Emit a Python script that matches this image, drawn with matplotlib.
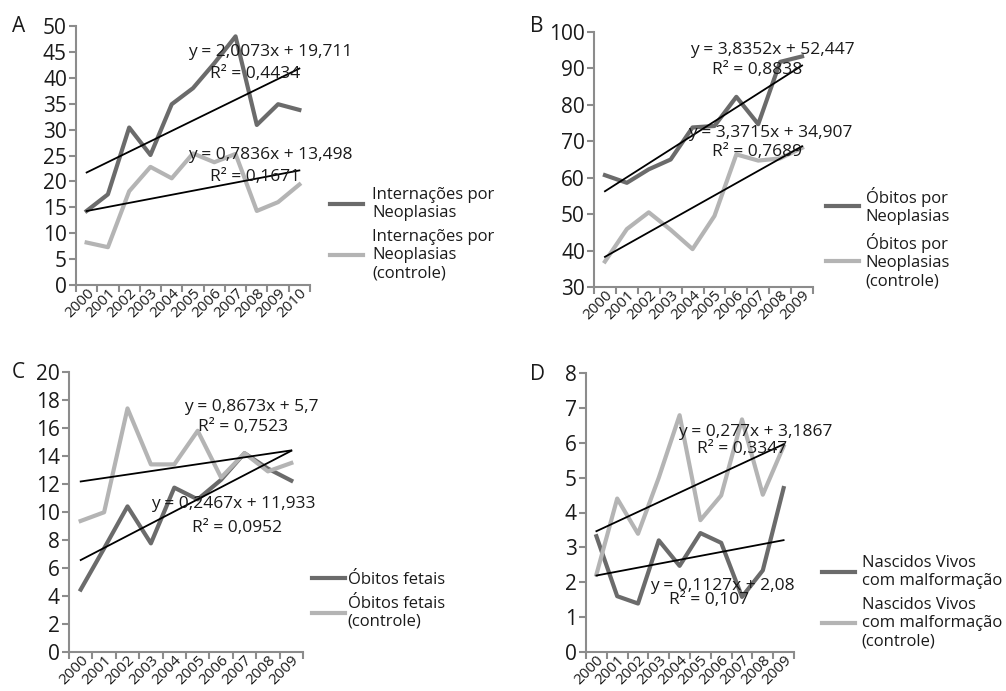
import numpy as np
import matplotlib
matplotlib.use('Agg')
import matplotlib.pyplot as plt
from matplotlib.lines import Line2D

plt.rcParams['font.family'] = ['Open Sans', 'DejaVu Sans']

W, H = 1006, 691

# Painel A - internações por neoplasias
anos_A = ['2000', '2001', '2002', '2003', '2004', '2005', '2006', '2007', '2008', '2009', '2010']
intern_neo = [14.3, 17.5, 30.4, 25.1, 34.9, 38.0, 42.8, 48.0, 30.9, 34.9, 33.8]
intern_neo_ctrl = [8.2, 7.3, 18.1, 22.8, 20.6, 25.4, 23.7, 25.3, 14.3, 16.0, 19.4]
tend_A = [(2.0073, 19.711), (0.7836, 13.498)]
r2_A = ['0,4434', '0,1671']
leg_A = ['Internações por\nNeoplasias', 'Internações por\nNeoplasias\n(controle)']

# Painel B - óbitos por neoplasias
anos_B = ['2000', '2001', '2002', '2003', '2004', '2005', '2006', '2007', '2008', '2009']
obitos_neo = [60.7, 58.6, 62.3, 65.0, 73.8, 74.2, 82.2, 74.7, 91.8, 93.3]
obitos_neo_ctrl = [37.0, 45.9, 50.5, 45.7, 40.4, 49.5, 66.4, 64.7, 65.3, 68.2]
tend_B = [(3.8352, 52.447), (3.3715, 34.907)]
r2_B = ['0,8838', '0,7689']
leg_B = ['Óbitos por\nNeoplasias', 'Óbitos por\nNeoplasias\n(controle)']

# Painel C - óbitos fetais
anos_C = ['2000', '2001', '2002', '2003', '2004', '2005', '2006', '2007', '2008', '2009']
obitos_fetais = [4.46, 7.4, 10.4, 7.76, 11.74, 10.9, 12.3, 14.2, 13.1, 12.24]
obitos_fetais_ctrl = [9.36, 9.98, 17.4, 13.4, 13.4, 15.8, 12.46, 14.2, 12.9, 13.5]
tend_C = [(0.8673, 5.7), (0.2467, 11.933)]
r2_C = ['0,7523', '0,0952']
leg_C = ['Óbitos fetais', 'Óbitos fetais\n(controle)']

# Painel D - nascidos vivos com malformação
anos_D = ['2000', '2001', '2002', '2003', '2004', '2005', '2006', '2007', '2008', '2009']
nv_malf = [3.32, 1.6, 1.39, 3.2, 2.47, 3.41, 3.13, 1.58, 2.34, 4.7]
nv_malf_ctrl = [2.22, 4.4, 3.39, 5.0, 6.79, 3.78, 4.49, 6.67, 4.51, 5.9]
tend_D = [(0.1127, 2.08), (0.277, 3.1867)]
r2_D = ['0,107', '0,3347']
leg_D = ['Nascidos Vivos\ncom malformação', 'Nascidos Vivos\ncom malformação\n(controle)']

ESCURO = '#6b6b6b'
CLARO = '#b4b4b4'
EIXO = '#8c8c8c'
TEXTO = '#1a1a1a'

fig = plt.figure(figsize=(W / 100, H / 100), dpi=100)


def fpos(x, y):
    # pixels -> coordenadas da figura
    return x / W, 1 - y / H


def num(v):
    return str(v).replace('.', ',')


def painel(caixa, anos, s1, s2, ymin, ymax, passo):
    l, t, r, b = caixa
    ax = fig.add_axes([l / W, 1 - b / H, (r - l) / W, (b - t) / H])
    x = np.arange(1, len(anos) + 1)
    ax.plot(x, s1, color=ESCURO, lw=3)
    ax.plot(x, s2, color=CLARO, lw=3)
    ax.set_xlim(0.5, len(anos) + 0.5)
    ax.set_ylim(ymin, ymax)
    ax.set_yticks(np.arange(ymin, ymax + passo / 2, passo))
    ax.set_xticks(x)
    ax.set_xticklabels(anos, rotation=45, ha='right', va='top', rotation_mode='anchor')
    ax.set_xticks(np.arange(0.5, len(anos) + 1), minor=True)
    ax.tick_params(axis='x', which='major', length=0, labelsize=11, pad=0.5, colors=TEXTO)
    ax.tick_params(axis='x', which='minor', length=5, width=1.5, color=EIXO)
    ax.tick_params(axis='y', length=5, width=1.5, color=EIXO, labelsize=15, pad=1.5, labelcolor=TEXTO)
    for s in ['top', 'right']:
        ax.spines[s].set_visible(False)
    for s in ['left', 'bottom']:
        ax.spines[s].set_color(EIXO)
        ax.spines[s].set_linewidth(1.5)
    ax.patch.set_alpha(0)
    return ax, x


def tendencia(ax, x, coef):
    a, b = coef
    xs = np.array([x[0], x[-1]])
    ax.plot(xs, a * xs + b, color='black', lw=1.3)


def rotulo(coef, r2, pos1, pos2):
    a, b = coef
    fig.text(*fpos(*pos1), f'y = {num(a)}x + {num(b)}', fontsize=12.5, va='center', ha='left', color=TEXTO)
    fig.text(*fpos(*pos2), f'R² = {r2}', fontsize=12.5, va='center', ha='left', color=TEXTO)


def legenda(ax, labels, canto, pad):
    h = [Line2D([], [], color=ESCURO, lw=3), Line2D([], [], color=CLARO, lw=3)]
    ax.legend(h, labels, loc='upper left', bbox_to_anchor=fpos(*canto), bbox_transform=fig.transFigure,
              frameon=False, fontsize=12, handlelength=1.95, handletextpad=pad, labelspacing=0.45,
              borderpad=0, borderaxespad=0, labelcolor=TEXTO)


# A
ax, x = painel((76, 26, 310, 285), anos_A, intern_neo, intern_neo_ctrl, 0, 50, 5)
for c in tend_A:
    tendencia(ax, x, c)
rotulo(tend_A[0], r2_A[0], (188, 52), (210, 74))
rotulo(tend_A[1], r2_A[1], (188, 155), (210, 177))
legenda(ax, leg_A, (330, 187), 0.6)
fig.text(*fpos(12, 27), 'A', fontsize=15, va='center', ha='left', color=TEXTO)

# B
ax, x = painel((594, 32, 813, 287), anos_B, obitos_neo, obitos_neo_ctrl, 30, 100, 10)
for c in tend_B:
    tendencia(ax, x, c)
rotulo(tend_B[0], r2_B[0], (690, 50), (712, 70))
rotulo(tend_B[1], r2_B[1], (688, 133), (712, 152))
legenda(ax, leg_B, (826, 187), 0.42)
fig.text(*fpos(530, 27), 'B', fontsize=15, va='center', ha='left', color=TEXTO)

# C
ax, x = painel((69, 372, 303, 652), anos_C, obitos_fetais, obitos_fetais_ctrl, 0, 20, 2)
for c in tend_C:
    tendencia(ax, x, c)
rotulo(tend_C[0], r2_C[0], (184, 407), (198, 427))
rotulo(tend_C[1], r2_C[1], (151, 504), (192, 528))
legenda(ax, leg_C, (312, 572), 0.2)
fig.text(*fpos(12, 373), 'C', fontsize=15, va='center', ha='left', color=TEXTO)

# D
ax, x = painel((586, 373, 794, 652), anos_D, nv_malf, nv_malf_ctrl, 0, 8, 1)
for c in tend_D:
    tendencia(ax, x, c)
rotulo(tend_D[1], r2_D[1], (678, 432), (697, 449))
rotulo(tend_D[0], r2_D[0], (650, 586), (669, 600))
legenda(ax, leg_D, (822, 555), 0.42)
fig.text(*fpos(530, 374), 'D', fontsize=15, va='center', ha='left', color=TEXTO)

fig.savefig('out.png', dpi=100)
